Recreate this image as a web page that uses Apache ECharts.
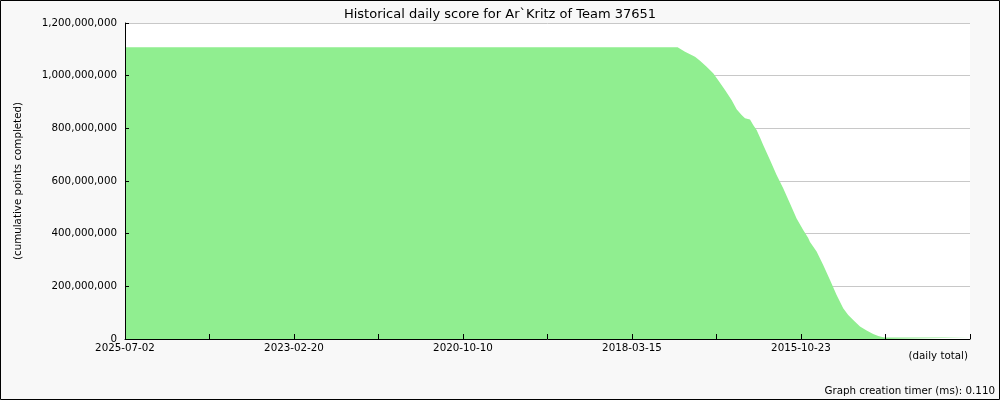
<!DOCTYPE html>
<html>
<head>
<meta charset="utf-8">
<script src="https://cdn.jsdelivr.net/npm/echarts@6/dist/echarts.min.js"></script>
<style>
  html, body { margin: 0; padding: 0; background: #f8f8f8; }
  #chart { width: 1000px; height: 400px; }
</style>
</head>
<body>
<div id="chart"></div>
<script>
// x-axis tick labels (shown every other tick), newest on the left
const dateLabels = ['2025-07-02', '2023-02-20', '2020-10-10', '2018-03-15', '2015-10-23'];
const recordsPerLabel = 845;        // records between two labelled dates
const labelSlots = 5;               // axis spans 5 label steps
// record index (0 = newest) and cumulative score
const recordIndex = [
  0, 2763, 2800, 2850, 2875, 2908, 2941, 2966, 3000, 3033,
  3058, 3083, 3100, 3125, 3141, 3158, 3175, 3191, 3225, 3258,
  3291, 3325, 3358, 3391, 3416, 3425, 3458, 3491, 3525, 3558,
  3591, 3616, 3641, 3675, 3708, 3741, 3766, 3791, 3805, 4225
];
const cumulativePoints = [
  1108000000, 1108000000, 1091000000, 1072000000, 1057000000, 1034000000, 1009000000, 983000000, 946000000, 908000000,
  872000000, 851000000, 838000000, 834000000, 813000000, 794000000, 765000000, 737000000, 680000000, 623000000,
  572000000, 515000000, 458000000, 414000000, 384000000, 368000000, 332000000, 281000000, 224000000, 167000000,
  117000000, 91000000, 72000000, 47000000, 32000000, 19000000, 11000000, 6500000, 6000000, 6000000
];
const yTicks = { min: 0, max: 1200000000, step: 200000000 };

const seriesData = recordIndex.map((r, i) => [r, cumulativePoints[i]]);
const FONT = 'DejaVu Sans';

const chart = echarts.init(document.getElementById('chart'), null, { renderer: 'canvas' });
chart.setOption({
  backgroundColor: '#f8f8f8',
  animation: false,
  title: {
    text: 'Historical daily score for Ar`Kritz of Team 37651',
    left: 'center',
    top: 3,
    textStyle: { fontFamily: FONT, fontSize: 13, fontWeight: 'normal', color: '#000' }
  },
  grid: {
    left: 125, top: 23, right: 30, bottom: 61,
    show: true, backgroundColor: '#ffffff', borderWidth: 0
  },
  xAxis: {
    type: 'value',
    z: 10,
    min: 0,
    max: recordsPerLabel * labelSlots,
    interval: recordsPerLabel / 2,
    axisLine: { show: true, onZero: false, lineStyle: { color: '#000', width: 1 } },
    axisTick: { show: true, inside: true, length: 5, lineStyle: { color: '#000' } },
    splitLine: { show: false },
    axisLabel: {
      show: true, margin: 4, color: '#000', fontFamily: FONT, fontSize: 10.3,
      showMinLabel: true, showMaxLabel: true,
      formatter: function (v) {
        const k = v / recordsPerLabel;
        const r = Math.round(k);
        if (Math.abs(k - r) < 1e-6 && r < dateLabels.length) return dateLabels[r];
        return '';
      }
    }
  },
  yAxis: [{
    // grid lines only, drawn below the area
    type: 'value',
    z: 0,
    min: yTicks.min, max: yTicks.max, interval: yTicks.step,
    axisLine: { show: false },
    axisTick: { show: false },
    axisLabel: { show: false },
    splitLine: { show: true, lineStyle: { color: '#c8c8c8', width: 1 } }
  }, {
    // axis line, ticks, labels and name, drawn above the area
    type: 'value',
    position: 'left',
    z: 10,
    min: yTicks.min, max: yTicks.max, interval: yTicks.step,
    name: '(cumulative points completed)',
    nameLocation: 'middle',
    nameRotate: 90,
    nameGap: 102,
    nameTextStyle: { fontFamily: FONT, fontSize: 10.3, color: '#000' },
    axisLine: { show: true, lineStyle: { color: '#000', width: 1 } },
    axisTick: { show: true, inside: true, length: 4, lineStyle: { color: '#000' } },
    splitLine: { show: false },
    axisLabel: {
      margin: 8, color: '#000', fontFamily: FONT, fontSize: 10.3,
      formatter: v => v.toLocaleString('en-US')
    }
  }],
  series: [{
    type: 'line',
    yAxisIndex: 0,
    data: seriesData,
    showSymbol: false,
    smooth: false,
    lineStyle: { width: 0, color: '#90ee90' },
    areaStyle: { color: '#90ee90', opacity: 1 },
    z: 1
  }],
  graphic: [
    { type: 'text', right: 32, top: 351,
      style: { text: '(daily total)', font: '10.3px "DejaVu Sans"', fill: '#000' } },
    { type: 'text', right: 5, top: 386,
      style: { text: 'Graph creation timer (ms): 0.110', font: '10.3px "DejaVu Sans"', fill: '#000' } },
    { type: 'rect', shape: { x: 0.5, y: 0.5, width: 999, height: 399 },
      style: { fill: 'none', stroke: '#000', lineWidth: 1 }, z: 100 }
  ]
});
</script>
</body>
</html>
